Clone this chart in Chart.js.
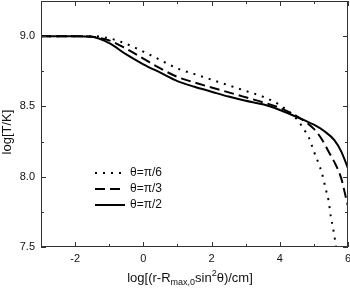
<!DOCTYPE html>
<html lang="en">
<head>
    <meta charset="UTF-8">
    <title>log T vs distance</title>
    <script src="https://cdn.jsdelivr.net/npm/chart.js"></script>
    <style>
        html, body {
            margin: 0;
            padding: 0;
            background: #fff;
        }
        .chart-box {
            width: 350px;
            height: 289px;
        }
    </style>
</head>
<body>
    <div class="chart-box">
        <canvas id="tempCanvas"></canvas>
    </div>
    <script>
        // values
        const xHalfPi = [-3, -2, -1.5, -1, -0.5, 0, 0.5, 1, 1.5, 2, 2.5, 3, 3.5, 4, 4.5, 5, 5.3, 5.6, 5.8, 6];
        const yHalfPi = [9.0, 9.0, 8.995, 8.95, 8.87, 8.80, 8.74, 8.68, 8.64, 8.605, 8.57, 8.54, 8.515, 8.475, 8.425, 8.37, 8.325, 8.26, 8.18, 8.06];

        const xThirdPi = [-3, -2, -1.5, -1, -0.5, 0, 0.5, 1, 1.5, 2, 2.5, 3, 3.5, 4, 4.5, 5, 5.25, 5.45, 5.65, 5.8, 5.95, 6];
        const yThirdPi = [9.0, 9.0, 8.995, 8.97, 8.91, 8.84, 8.77, 8.71, 8.67, 8.635, 8.60, 8.565, 8.53, 8.49, 8.43, 8.34, 8.26, 8.17, 8.08, 7.99, 7.84, 7.79];

        const xSixthPi = [-3, -2, -1.5, -1, -0.5, 0, 0.5, 1, 1.5, 2, 2.5, 3, 3.5, 4, 4.5, 4.7, 4.85, 5.0, 5.13, 5.23, 5.36, 5.43, 5.5, 5.55, 5.6, 5.65];
        const ySixthPi = [9.0, 9.0, 9.0, 8.985, 8.945, 8.89, 8.83, 8.77, 8.73, 8.69, 8.65, 8.61, 8.57, 8.51, 8.41, 8.34, 8.28, 8.18, 8.10, 8.03, 7.90, 7.83, 7.71, 7.65, 7.58, 7.5];

        const seriesLabels = ['\u03b8=\u03c0/6', '\u03b8=\u03c0/3', '\u03b8=\u03c0/2'];

        const xTicks = [-2, 0, 2, 4, 6];
        const xMinorTicks = [-3, -1, 1, 3, 5];
        const yTicks = [7.5, 8.0, 8.5, 9.0];
        const yMinorTicks = [7.75, 8.25, 8.75];

        function toPoints(xs, ys) {
            return xs.map((x, i) => ({ x: x, y: ys[i] }));
        }

        function noPadding(s) {
            s.paddingTop = 0;
            s.paddingBottom = 0;
            s.paddingLeft = 0;
            s.paddingRight = 0;
        }

        // inward ticks on all four sides, frame, titles and legend
        const framePlugin = {
            id: 'frame',
            afterDraw(chart) {
                const ctx = chart.ctx;
                const a = chart.chartArea;
                const xs = chart.scales.x;
                const ys = chart.scales.y;
                ctx.save();
                ctx.strokeStyle = '#333';
                ctx.lineWidth = 1;
                ctx.strokeRect(a.left + 0.5, a.top + 0.5, a.right - a.left - 1, a.bottom - a.top - 1);

                ctx.beginPath();
                xTicks.concat(xMinorTicks).forEach(v => {
                    const len = xTicks.includes(v) ? 5 : 3;
                    const px = Math.round(xs.getPixelForValue(v)) + 0.5;
                    ctx.moveTo(px, a.bottom);
                    ctx.lineTo(px, a.bottom - len);
                    ctx.moveTo(px, a.top);
                    ctx.lineTo(px, a.top + len);
                });
                yTicks.concat(yMinorTicks).forEach(v => {
                    const len = yTicks.includes(v) ? 5 : 3;
                    const py = Math.round(ys.getPixelForValue(v)) + 0.5;
                    ctx.moveTo(a.left, py);
                    ctx.lineTo(a.left + len, py);
                    ctx.moveTo(a.right, py);
                    ctx.lineTo(a.right - len, py);
                });
                ctx.stroke();

                // y title
                ctx.fillStyle = '#111';
                ctx.font = '13px "Liberation Sans", Arial, sans-serif';
                ctx.textAlign = 'center';
                ctx.textBaseline = 'middle';
                ctx.save();
                ctx.translate(7, 132);
                ctx.rotate(-Math.PI / 2);
                ctx.fillText('log[T/K]', 0, 0);
                ctx.restore();

                // x title with sub- and superscript
                const big = '13px "Liberation Sans", Arial, sans-serif';
                const small = '9px "Liberation Sans", Arial, sans-serif';
                const parts = [
                    { t: 'log[(r-R', f: big, dy: 0 },
                    { t: 'max,0', f: small, dy: 3 },
                    { t: 'sin', f: big, dy: 0 },
                    { t: '2', f: small, dy: -6 },
                    { t: '\u03b8)/cm]', f: big, dy: 0 }
                ];
                let total = 0;
                parts.forEach(p => {
                    ctx.font = p.f;
                    p.w = ctx.measureText(p.t).width;
                    total += p.w;
                });
                let cx = 190 - total / 2;
                ctx.textAlign = 'left';
                ctx.textBaseline = 'alphabetic';
                parts.forEach(p => {
                    ctx.font = p.f;
                    ctx.fillText(p.t, cx, 282 + p.dy);
                    cx += p.w;
                });

                // legend
                const rows = [173, 189, 205];
                const lineEnds = [127, 123, 125];
                ctx.font = '12px "Liberation Sans", Arial, sans-serif';
                ctx.textBaseline = 'middle';
                chart.data.datasets.forEach((ds, i) => {
                    ctx.save();
                    ctx.strokeStyle = ds.borderColor;
                    ctx.lineWidth = ds.borderWidth;
                    ctx.setLineDash(ds.borderDash || []);
                    ctx.beginPath();
                    ctx.moveTo(95, rows[i]);
                    ctx.lineTo(lineEnds[i], rows[i]);
                    ctx.stroke();
                    ctx.restore();
                    ctx.fillText(ds.label, 130, rows[i]);
                });
                ctx.restore();
            }
        };

        const ctx = document.getElementById('tempCanvas').getContext('2d');
        new Chart(ctx, {
            type: 'line',
            data: {
                datasets: [
                    {
                        label: seriesLabels[0],
                        data: toPoints(xSixthPi, ySixthPi),
                        borderColor: '#000',
                        borderWidth: 2,
                        borderDash: [2, 6],
                        pointRadius: 0,
                        cubicInterpolationMode: 'monotone'
                    },
                    {
                        label: seriesLabels[1],
                        data: toPoints(xThirdPi, yThirdPi),
                        borderColor: '#000',
                        borderWidth: 2,
                        borderDash: [10, 5],
                        pointRadius: 0,
                        cubicInterpolationMode: 'monotone'
                    },
                    {
                        label: seriesLabels[2],
                        data: toPoints(xHalfPi, yHalfPi),
                        borderColor: '#000',
                        borderWidth: 2,
                        pointRadius: 0,
                        cubicInterpolationMode: 'monotone'
                    }
                ]
            },
            options: {
                responsive: true,
                maintainAspectRatio: false,
                animation: false,
                layout: { padding: { top: 1, right: 2, left: 0, bottom: 0 } },
                plugins: {
                    legend: { display: false },
                    tooltip: { enabled: false }
                },
                scales: {
                    x: {
                        type: 'linear',
                        min: -3,
                        max: 6,
                        grid: { display: false, drawTicks: false },
                        border: { display: false },
                        afterBuildTicks: s => { s.ticks = xTicks.map(v => ({ value: v })); },
                        afterFit: s => { s.height = 42; noPadding(s); },
                        ticks: {
                            color: '#111',
                            padding: 5,
                            maxRotation: 0,
                            font: { family: '"Liberation Sans", Arial, sans-serif', size: 11 },
                            callback: v => String(v)
                        }
                    },
                    y: {
                        type: 'linear',
                        min: 7.5,
                        max: 9.25,
                        grid: { display: false, drawTicks: false },
                        border: { display: false },
                        afterBuildTicks: s => { s.ticks = yTicks.map(v => ({ value: v })); },
                        afterFit: s => { s.width = 41; noPadding(s); },
                        ticks: {
                            color: '#111',
                            padding: 6,
                            font: { family: '"Liberation Sans", Arial, sans-serif', size: 11 },
                            callback: v => Number(v).toFixed(1)
                        }
                    }
                }
            },
            plugins: [framePlugin]
        });
    </script>
</body>
</html>
